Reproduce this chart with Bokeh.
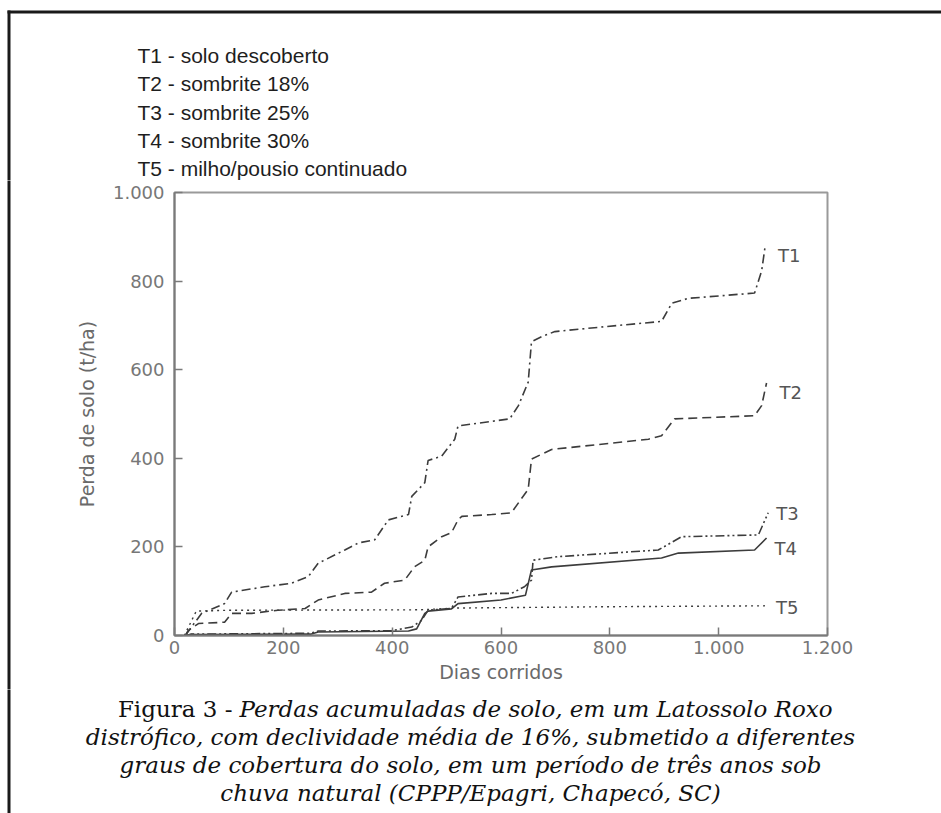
from bokeh.plotting import figure
from bokeh.layouts import column, row
from bokeh.models import Range1d, FixedTicker, Label
from bokeh.core.properties import value
from bokeh.embed import file_html
from bokeh.resources import INLINE

# ---------------- data ----------------
t1_days = [20, 31, 50, 92, 105, 166, 215, 246, 264, 313, 338, 368, 393, 430, 436, 460, 466, 491, 515, 521,
           616, 632, 650, 656, 675, 699, 790, 895, 914, 944, 1066, 1079, 1085]
t1_vals = [0, 19, 50, 72, 98, 110, 118, 133, 163, 193, 209, 216, 261, 273, 314, 345, 395, 405, 443, 473,
           489, 519, 572, 663, 675, 686, 697, 709, 750, 761, 773, 823, 875]

t2_days = [20, 25, 44, 92, 105, 142, 190, 240, 264, 313, 362, 386, 423, 441, 460, 466, 491, 509, 521, 528,
           583, 619, 650, 656, 693, 871, 895, 919, 1066, 1079, 1088]
t2_vals = [0, 11, 27, 30, 50, 50, 57, 61, 80, 95, 98, 118, 125, 155, 170, 200, 223, 232, 261, 269,
           273, 277, 330, 398, 420, 443, 451, 489, 496, 519, 570]

t3_days = [20, 30, 250, 264, 399, 436, 454, 466, 509, 521, 583, 619, 643, 656, 659, 705, 889, 932, 1073, 1091]
t3_vals = [0, 3, 5, 10, 11, 19, 34, 57, 61, 87, 95, 95, 110, 125, 170, 178, 193, 223, 227, 277]

t4_days = [20, 30, 250, 264, 430, 445, 460, 466, 509, 521, 600, 645, 656, 693, 895, 926, 1066, 1088]
t4_vals = [0, 2, 3, 8, 10, 15, 50, 55, 60, 72, 80, 91, 148, 155, 175, 186, 193, 220]

t5_days = [18, 30, 40, 100, 450, 520, 800, 1085]
t5_vals = [0, 30, 55, 57, 58, 62, 65, 67]

series_names = ["T1", "T2", "T3", "T4", "T5"]
legend_lines = ["T1 - solo descoberto", "T2 - sombrite 18%", "T3 - sombrite 25%",
                "T4 - sombrite 30%", "T5 - milho/pousio continuado"]
x_ticks = [0, 200, 400, 600, 800, 1000, 1200]
y_ticks = [0, 200, 400, 600, 800, 1000]
tick_overrides = {1000: "1.000", 1200: "1.200"}
x_label = "Dias corridos"
y_label = "Perda de solo (t/ha)"
caption_head = "Figura 3 -"
caption_lines = ["Perdas acumuladas de solo, em um Latossolo Roxo",
                 "distrófico, com declividade média de 16%, submetido a diferentes",
                 "graus de cobertura do solo, em um período de três anos sob",
                 "chuva natural (CPPP/Epagri, Chapecó, SC)"]

# ---------------- page geometry (pixels) ----------------
W, H = 941, 813
TOP_H = 180          # legend strip
MAIN_BOTTOM = 689    # end of the chart strip
STRIP_W = 12         # narrow strip carrying the left rule beside the chart
XL, XR, YT, YB = 174, 827, 192, 635
RULE_L, RULE_R, RULE_T, RULE_B = 7, 10, 10, 13
RULE_COL = "#1a1a1a"


def blank_fig(w, h):
    f = figure(width=w, height=h, output_backend="svg", toolbar_location=None,
               x_range=Range1d(0, w), y_range=Range1d(h, 0),
               x_axis_location=None, y_axis_location=None, min_border=0)
    f.frame_align = False
    f.outline_line_color = None
    f.xgrid.visible = False
    f.ygrid.visible = False
    f.background_fill_color = "white"
    f.border_fill_color = "white"
    return f


# ---------- top strip: frame rules + treatment list ----------
top = blank_fig(W, TOP_H)
top.quad(left=[RULE_L, RULE_L], right=[W + 5, RULE_R], top=[RULE_T, RULE_T], bottom=[RULE_B, TOP_H + 5],
         fill_color=RULE_COL, line_color=None)
leg_base = [55 + 28.3 * i for i in range(len(legend_lines))]
top.text(x=[137] * len(legend_lines), y=leg_base, text=legend_lines,
         text_font=value("Liberation Sans"), text_font_size="21px", text_color="#1e1e1e",
         text_align="left", text_baseline="alphabetic")

# ---------- chart ----------
MAIN_H = MAIN_BOTTOM - TOP_H
strip = blank_fig(STRIP_W, MAIN_H)
strip.quad(left=[RULE_L], right=[RULE_R], top=[-5], bottom=[MAIN_H + 5], fill_color=RULE_COL, line_color=None)

p = figure(width=W - STRIP_W, height=MAIN_H, output_backend="svg", toolbar_location=None,
           x_range=Range1d(0, 1200), y_range=Range1d(0, 1000),
           min_border_left=XL - STRIP_W, min_border_right=W - XR,
           min_border_top=YT - TOP_H, min_border_bottom=MAIN_BOTTOM - YB)
p.frame_align = False
p.background_fill_color = "white"
p.border_fill_color = "white"
p.outline_line_color = "#9a9a9a"
p.outline_line_width = 2
p.xgrid.visible = False
p.ygrid.visible = False

axis_grey = "#7a7a7a"
for ax, ticks in ((p.xaxis, x_ticks), (p.yaxis, y_ticks)):
    ax.ticker = FixedTicker(ticks=ticks)
    ax.major_label_overrides = tick_overrides
    ax.axis_line_color = axis_grey
    ax.axis_line_width = 2
    ax.major_tick_line_color = axis_grey
    ax.major_tick_line_width = 1.5
    ax.major_tick_in = 8
    ax.major_tick_out = 0
    ax.minor_tick_line_color = None
    ax.major_label_text_font = "DejaVu Sans"
    ax.major_label_text_font_size = "18px"
    ax.major_label_text_color = "#777777"
    ax.axis_label_text_font = "DejaVu Sans"
    ax.axis_label_text_font_style = "normal"
    ax.axis_label_text_color = "#6a6a6a"
    ax.axis_label_text_font_size = "19px"

p.xaxis.axis_label = x_label
p.xaxis.major_label_standoff = 5
p.xaxis.axis_label_standoff = 4
p.yaxis.axis_label = y_label
p.yaxis.major_label_standoff = 10
p.yaxis.axis_label_standoff = 12

line_col = "#3c3c3c"
p.line(t1_days, t1_vals, line_color=line_col, line_width=1.6, line_dash="9 4 2 4")
p.line(t2_days, t2_vals, line_color=line_col, line_width=1.6, line_dash="9 5")
p.line(t3_days, t3_vals, line_color=line_col, line_width=1.6, line_dash="9 3 2 3 2 3")
p.line(t4_days, t4_vals, line_color=line_col, line_width=1.6)
p.line(t5_days, t5_vals, line_color=line_col, line_width=1.4, line_dash="2 4")

# series labels placed just right of each curve's end (offsets in pixels)
label_offsets = [(13, -8), (13, -10), (8, -1), (8, -10), (11, -2)]
ends = [(t1_days[-1], t1_vals[-1]), (t2_days[-1], t2_vals[-1]), (t3_days[-1], t3_vals[-1]),
        (t4_days[-1], t4_vals[-1]), (t5_days[-1], t5_vals[-1])]
for name, (ex, ey), (ox, oy) in zip(series_names, ends, label_offsets):
    p.add_layout(Label(x=ex, y=ey, x_offset=ox, y_offset=oy, text=name, text_font="DejaVu Sans",
                       text_font_size="18px", text_color="#555555",
                       text_align="left", text_baseline="alphabetic"))

chart_row = row(strip, p, spacing=0)

# ---------- caption strip ----------
CAP_H = H - MAIN_BOTTOM
cap = blank_fig(W, CAP_H)
cap.quad(left=[RULE_L], right=[RULE_R], top=[-5], bottom=[CAP_H + 5], fill_color=RULE_COL, line_color=None)
cap_base = [b - MAIN_BOTTOM for b in (708, 736, 764, 792)]
cap.text(x=[232], y=[cap_base[0]], text=[caption_head],
         text_font=value("DejaVu Serif"), text_font_size="23px", text_color="#111111",
         text_align="right", text_baseline="alphabetic")
cap.text(x=[239], y=[cap_base[0]], text=[caption_lines[0]],
         text_font=value("DejaVu Serif"), text_font_style="italic", text_font_size="23px",
         text_color="#111111", text_align="left", text_baseline="alphabetic")
cap.text(x=[470] * 3, y=cap_base[1:], text=caption_lines[1:],
         text_font=value("DejaVu Serif"), text_font_style="italic", text_font_size="23px",
         text_color="#111111", text_align="center", text_baseline="alphabetic")

page = column(top, chart_row, cap, spacing=0)
open("out.html", "w").write(file_html(page, INLINE))
